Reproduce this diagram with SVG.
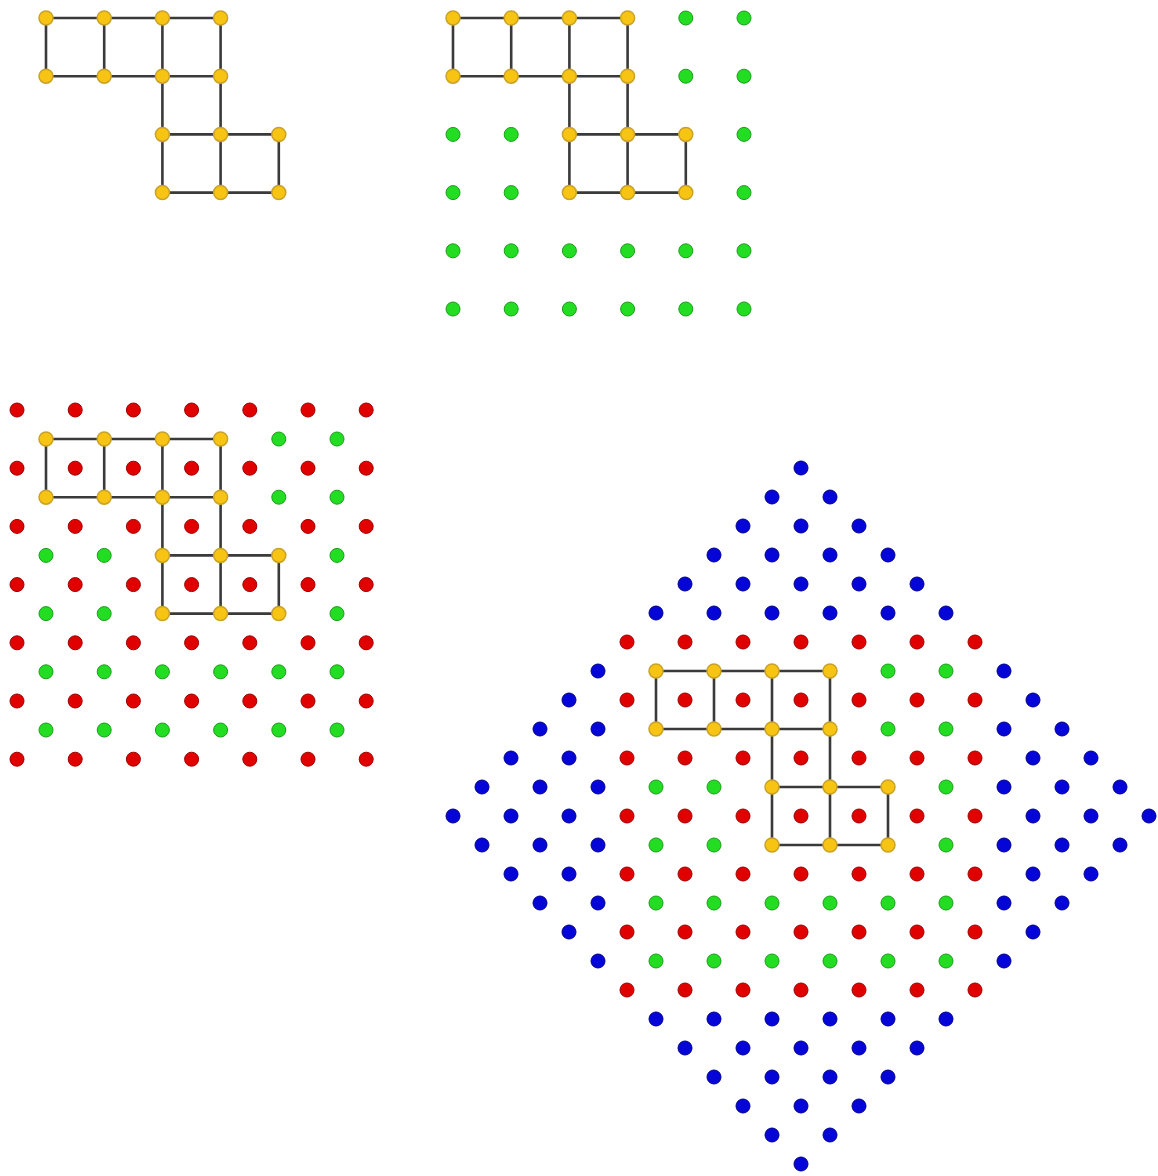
<svg xmlns="http://www.w3.org/2000/svg" width="1158" height="1176" viewBox="0 0 1158 1176">
<style>
.e{fill:none;stroke:#3a3a3a;stroke-width:2.6}
.y{fill:#F7C414;stroke:#C9A227;stroke-width:1.5}
.g{fill:#22DD22;stroke:#1A9E1A;stroke-width:1}
.r{fill:#E00000;stroke:#A00000;stroke-width:1}
.b{fill:#0505D8;stroke:#000090;stroke-width:1}
circle{r:7}
</style>
<rect width="1158" height="1176" fill="#ffffff"/>

<!-- Panel A (top-left) -->
<g id="panelA">
<g id="connA"><path class="e" d="M46 18H220.6M46 76.2H220.6M162.4 134.4H278.8M162.4 192.6H278.8M46 18V76.2M104.2 18V76.2M162.4 18V192.6M220.6 18V192.6M278.8 134.4V192.6"/></g>
<g id="A00"><circle class="y" cx="46" cy="18" r="7"/></g>
<g id="A10"><circle class="y" cx="104.2" cy="18" r="7"/></g>
<g id="A20"><circle class="y" cx="162.4" cy="18" r="7"/></g>
<g id="A30"><circle class="y" cx="220.6" cy="18" r="7"/></g>
<g id="A01"><circle class="y" cx="46" cy="76.2" r="7"/></g>
<g id="A11"><circle class="y" cx="104.2" cy="76.2" r="7"/></g>
<g id="A21"><circle class="y" cx="162.4" cy="76.2" r="7"/></g>
<g id="A31"><circle class="y" cx="220.6" cy="76.2" r="7"/></g>
<g id="A22"><circle class="y" cx="162.4" cy="134.4" r="7"/></g>
<g id="A32"><circle class="y" cx="220.6" cy="134.4" r="7"/></g>
<g id="A42"><circle class="y" cx="278.8" cy="134.4" r="7"/></g>
<g id="A23"><circle class="y" cx="162.4" cy="192.6" r="7"/></g>
<g id="A33"><circle class="y" cx="220.6" cy="192.6" r="7"/></g>
<g id="A43"><circle class="y" cx="278.8" cy="192.6" r="7"/></g>
</g>

<!-- Panel B (top-right) -->
<g id="panelB">
<g id="connB"><path class="e" d="M453 18H627.6M453 76.2H627.6M569.4 134.4H685.8M569.4 192.6H685.8M453 18V76.2M511.2 18V76.2M569.4 18V192.6M627.6 18V192.6M685.8 134.4V192.6"/></g>
<g id="B00"><circle class="y" cx="453" cy="18" r="7"/></g>
<g id="B10"><circle class="y" cx="511.2" cy="18" r="7"/></g>
<g id="B20"><circle class="y" cx="569.4" cy="18" r="7"/></g>
<g id="B30"><circle class="y" cx="627.6" cy="18" r="7"/></g>
<g id="B01"><circle class="y" cx="453" cy="76.2" r="7"/></g>
<g id="B11"><circle class="y" cx="511.2" cy="76.2" r="7"/></g>
<g id="B21"><circle class="y" cx="569.4" cy="76.2" r="7"/></g>
<g id="B31"><circle class="y" cx="627.6" cy="76.2" r="7"/></g>
<g id="B22"><circle class="y" cx="569.4" cy="134.4" r="7"/></g>
<g id="B32"><circle class="y" cx="627.6" cy="134.4" r="7"/></g>
<g id="B42"><circle class="y" cx="685.8" cy="134.4" r="7"/></g>
<g id="B23"><circle class="y" cx="569.4" cy="192.6" r="7"/></g>
<g id="B33"><circle class="y" cx="627.6" cy="192.6" r="7"/></g>
<g id="B43"><circle class="y" cx="685.8" cy="192.6" r="7"/></g>
<g id="B-green">
<circle class="g" cx="685.8" cy="18" r="7"/><circle class="g" cx="744" cy="18" r="7"/>
<circle class="g" cx="685.8" cy="76.2" r="7"/><circle class="g" cx="744" cy="76.2" r="7"/>
<circle class="g" cx="453" cy="134.4" r="7"/><circle class="g" cx="511.2" cy="134.4" r="7"/><circle class="g" cx="744" cy="134.4" r="7"/>
<circle class="g" cx="453" cy="192.6" r="7"/><circle class="g" cx="511.2" cy="192.6" r="7"/><circle class="g" cx="744" cy="192.6" r="7"/>
<circle class="g" cx="453" cy="250.8" r="7"/><circle class="g" cx="511.2" cy="250.8" r="7"/><circle class="g" cx="569.4" cy="250.8" r="7"/><circle class="g" cx="627.6" cy="250.8" r="7"/><circle class="g" cx="685.8" cy="250.8" r="7"/><circle class="g" cx="744" cy="250.8" r="7"/>
<circle class="g" cx="453" cy="309" r="7"/><circle class="g" cx="511.2" cy="309" r="7"/><circle class="g" cx="569.4" cy="309" r="7"/><circle class="g" cx="627.6" cy="309" r="7"/><circle class="g" cx="685.8" cy="309" r="7"/><circle class="g" cx="744" cy="309" r="7"/>
</g>
</g>

<!-- Panel C (bottom-left) -->
<g id="panelC">
<g id="C-red">
<circle class="r" cx="17" cy="410" r="7"/><circle class="r" cx="75.2" cy="410" r="7"/><circle class="r" cx="133.4" cy="410" r="7"/><circle class="r" cx="191.6" cy="410" r="7"/><circle class="r" cx="249.8" cy="410" r="7"/><circle class="r" cx="308" cy="410" r="7"/><circle class="r" cx="366.2" cy="410" r="7"/>
<circle class="r" cx="17" cy="468.2" r="7"/><circle class="r" cx="75.2" cy="468.2" r="7"/><circle class="r" cx="133.4" cy="468.2" r="7"/><circle class="r" cx="191.6" cy="468.2" r="7"/><circle class="r" cx="249.8" cy="468.2" r="7"/><circle class="r" cx="308" cy="468.2" r="7"/><circle class="r" cx="366.2" cy="468.2" r="7"/>
<circle class="r" cx="17" cy="526.4" r="7"/><circle class="r" cx="75.2" cy="526.4" r="7"/><circle class="r" cx="133.4" cy="526.4" r="7"/><circle class="r" cx="191.6" cy="526.4" r="7"/><circle class="r" cx="249.8" cy="526.4" r="7"/><circle class="r" cx="308" cy="526.4" r="7"/><circle class="r" cx="366.2" cy="526.4" r="7"/>
<circle class="r" cx="17" cy="584.6" r="7"/><circle class="r" cx="75.2" cy="584.6" r="7"/><circle class="r" cx="133.4" cy="584.6" r="7"/><circle class="r" cx="191.6" cy="584.6" r="7"/><circle class="r" cx="249.8" cy="584.6" r="7"/><circle class="r" cx="308" cy="584.6" r="7"/><circle class="r" cx="366.2" cy="584.6" r="7"/>
<circle class="r" cx="17" cy="642.8" r="7"/><circle class="r" cx="75.2" cy="642.8" r="7"/><circle class="r" cx="133.4" cy="642.8" r="7"/><circle class="r" cx="191.6" cy="642.8" r="7"/><circle class="r" cx="249.8" cy="642.8" r="7"/><circle class="r" cx="308" cy="642.8" r="7"/><circle class="r" cx="366.2" cy="642.8" r="7"/>
<circle class="r" cx="17" cy="701" r="7"/><circle class="r" cx="75.2" cy="701" r="7"/><circle class="r" cx="133.4" cy="701" r="7"/><circle class="r" cx="191.6" cy="701" r="7"/><circle class="r" cx="249.8" cy="701" r="7"/><circle class="r" cx="308" cy="701" r="7"/><circle class="r" cx="366.2" cy="701" r="7"/>
<circle class="r" cx="17" cy="759.2" r="7"/><circle class="r" cx="75.2" cy="759.2" r="7"/><circle class="r" cx="133.4" cy="759.2" r="7"/><circle class="r" cx="191.6" cy="759.2" r="7"/><circle class="r" cx="249.8" cy="759.2" r="7"/><circle class="r" cx="308" cy="759.2" r="7"/><circle class="r" cx="366.2" cy="759.2" r="7"/>
</g>
<g id="C-green">
<circle class="g" cx="278.8" cy="439" r="7"/><circle class="g" cx="337" cy="439" r="7"/>
<circle class="g" cx="278.8" cy="497.2" r="7"/><circle class="g" cx="337" cy="497.2" r="7"/>
<circle class="g" cx="46" cy="555.4" r="7"/><circle class="g" cx="104.2" cy="555.4" r="7"/><circle class="g" cx="337" cy="555.4" r="7"/>
<circle class="g" cx="46" cy="613.6" r="7"/><circle class="g" cx="104.2" cy="613.6" r="7"/><circle class="g" cx="337" cy="613.6" r="7"/>
<circle class="g" cx="46" cy="671.8" r="7"/><circle class="g" cx="104.2" cy="671.8" r="7"/><circle class="g" cx="162.4" cy="671.8" r="7"/><circle class="g" cx="220.6" cy="671.8" r="7"/><circle class="g" cx="278.8" cy="671.8" r="7"/><circle class="g" cx="337" cy="671.8" r="7"/>
<circle class="g" cx="46" cy="730" r="7"/><circle class="g" cx="104.2" cy="730" r="7"/><circle class="g" cx="162.4" cy="730" r="7"/><circle class="g" cx="220.6" cy="730" r="7"/><circle class="g" cx="278.8" cy="730" r="7"/><circle class="g" cx="337" cy="730" r="7"/>
</g>
<g id="connC"><path class="e" d="M46 439H220.6M46 497.2H220.6M162.4 555.4H278.8M162.4 613.6H278.8M46 439V497.2M104.2 439V497.2M162.4 439V613.6M220.6 439V613.6M278.8 555.4V613.6"/></g>
<g id="C00"><circle class="y" cx="46" cy="439" r="7"/></g>
<g id="C10"><circle class="y" cx="104.2" cy="439" r="7"/></g>
<g id="C20"><circle class="y" cx="162.4" cy="439" r="7"/></g>
<g id="C30"><circle class="y" cx="220.6" cy="439" r="7"/></g>
<g id="C01"><circle class="y" cx="46" cy="497.2" r="7"/></g>
<g id="C11"><circle class="y" cx="104.2" cy="497.2" r="7"/></g>
<g id="C21"><circle class="y" cx="162.4" cy="497.2" r="7"/></g>
<g id="C31"><circle class="y" cx="220.6" cy="497.2" r="7"/></g>
<g id="C22"><circle class="y" cx="162.4" cy="555.4" r="7"/></g>
<g id="C32"><circle class="y" cx="220.6" cy="555.4" r="7"/></g>
<g id="C42"><circle class="y" cx="278.8" cy="555.4" r="7"/></g>
<g id="C23"><circle class="y" cx="162.4" cy="613.6" r="7"/></g>
<g id="C33"><circle class="y" cx="220.6" cy="613.6" r="7"/></g>
<g id="C43"><circle class="y" cx="278.8" cy="613.6" r="7"/></g>
</g>

<!-- Panel D (bottom-right diamond) -->
<g id="panelD">
<g id="D-blue">
<circle class="b" cx="801" cy="468" r="7"/>
<circle class="b" cx="772" cy="497" r="7"/><circle class="b" cx="830" cy="497" r="7"/>
<circle class="b" cx="743" cy="526" r="7"/><circle class="b" cx="801" cy="526" r="7"/><circle class="b" cx="859" cy="526" r="7"/>
<circle class="b" cx="714" cy="555" r="7"/><circle class="b" cx="772" cy="555" r="7"/><circle class="b" cx="830" cy="555" r="7"/><circle class="b" cx="888" cy="555" r="7"/>
<circle class="b" cx="685" cy="584" r="7"/><circle class="b" cx="743" cy="584" r="7"/><circle class="b" cx="801" cy="584" r="7"/><circle class="b" cx="859" cy="584" r="7"/><circle class="b" cx="917" cy="584" r="7"/>
<circle class="b" cx="656" cy="613" r="7"/><circle class="b" cx="714" cy="613" r="7"/><circle class="b" cx="772" cy="613" r="7"/><circle class="b" cx="830" cy="613" r="7"/><circle class="b" cx="888" cy="613" r="7"/><circle class="b" cx="946" cy="613" r="7"/>
<circle class="b" cx="598" cy="671" r="7"/><circle class="b" cx="1004" cy="671" r="7"/>
<circle class="b" cx="569" cy="700" r="7"/><circle class="b" cx="1033" cy="700" r="7"/>
<circle class="b" cx="540" cy="729" r="7"/><circle class="b" cx="598" cy="729" r="7"/><circle class="b" cx="1004" cy="729" r="7"/><circle class="b" cx="1062" cy="729" r="7"/>
<circle class="b" cx="511" cy="758" r="7"/><circle class="b" cx="569" cy="758" r="7"/><circle class="b" cx="1033" cy="758" r="7"/><circle class="b" cx="1091" cy="758" r="7"/>
<circle class="b" cx="482" cy="787" r="7"/><circle class="b" cx="540" cy="787" r="7"/><circle class="b" cx="598" cy="787" r="7"/><circle class="b" cx="1004" cy="787" r="7"/><circle class="b" cx="1062" cy="787" r="7"/><circle class="b" cx="1120" cy="787" r="7"/>
<circle class="b" cx="453" cy="816" r="7"/><circle class="b" cx="511" cy="816" r="7"/><circle class="b" cx="569" cy="816" r="7"/><circle class="b" cx="1033" cy="816" r="7"/><circle class="b" cx="1091" cy="816" r="7"/><circle class="b" cx="1149" cy="816" r="7"/>
<circle class="b" cx="482" cy="845" r="7"/><circle class="b" cx="540" cy="845" r="7"/><circle class="b" cx="598" cy="845" r="7"/><circle class="b" cx="1004" cy="845" r="7"/><circle class="b" cx="1062" cy="845" r="7"/><circle class="b" cx="1120" cy="845" r="7"/>
<circle class="b" cx="511" cy="874" r="7"/><circle class="b" cx="569" cy="874" r="7"/><circle class="b" cx="1033" cy="874" r="7"/><circle class="b" cx="1091" cy="874" r="7"/>
<circle class="b" cx="540" cy="903" r="7"/><circle class="b" cx="598" cy="903" r="7"/><circle class="b" cx="1004" cy="903" r="7"/><circle class="b" cx="1062" cy="903" r="7"/>
<circle class="b" cx="569" cy="932" r="7"/><circle class="b" cx="1033" cy="932" r="7"/>
<circle class="b" cx="598" cy="961" r="7"/><circle class="b" cx="1004" cy="961" r="7"/>
<circle class="b" cx="656" cy="1019" r="7"/><circle class="b" cx="714" cy="1019" r="7"/><circle class="b" cx="772" cy="1019" r="7"/><circle class="b" cx="830" cy="1019" r="7"/><circle class="b" cx="888" cy="1019" r="7"/><circle class="b" cx="946" cy="1019" r="7"/>
<circle class="b" cx="685" cy="1048" r="7"/><circle class="b" cx="743" cy="1048" r="7"/><circle class="b" cx="801" cy="1048" r="7"/><circle class="b" cx="859" cy="1048" r="7"/><circle class="b" cx="917" cy="1048" r="7"/>
<circle class="b" cx="714" cy="1077" r="7"/><circle class="b" cx="772" cy="1077" r="7"/><circle class="b" cx="830" cy="1077" r="7"/><circle class="b" cx="888" cy="1077" r="7"/>
<circle class="b" cx="743" cy="1106" r="7"/><circle class="b" cx="801" cy="1106" r="7"/><circle class="b" cx="859" cy="1106" r="7"/>
<circle class="b" cx="772" cy="1135" r="7"/><circle class="b" cx="830" cy="1135" r="7"/>
<circle class="b" cx="801" cy="1164" r="7"/>
</g>
<g id="D-red">
<circle class="r" cx="627" cy="642" r="7"/><circle class="r" cx="685" cy="642" r="7"/><circle class="r" cx="743" cy="642" r="7"/><circle class="r" cx="801" cy="642" r="7"/><circle class="r" cx="859" cy="642" r="7"/><circle class="r" cx="917" cy="642" r="7"/><circle class="r" cx="975" cy="642" r="7"/>
<circle class="r" cx="627" cy="700" r="7"/><circle class="r" cx="685" cy="700" r="7"/><circle class="r" cx="743" cy="700" r="7"/><circle class="r" cx="801" cy="700" r="7"/><circle class="r" cx="859" cy="700" r="7"/><circle class="r" cx="917" cy="700" r="7"/><circle class="r" cx="975" cy="700" r="7"/>
<circle class="r" cx="627" cy="758" r="7"/><circle class="r" cx="685" cy="758" r="7"/><circle class="r" cx="743" cy="758" r="7"/><circle class="r" cx="801" cy="758" r="7"/><circle class="r" cx="859" cy="758" r="7"/><circle class="r" cx="917" cy="758" r="7"/><circle class="r" cx="975" cy="758" r="7"/>
<circle class="r" cx="627" cy="816" r="7"/><circle class="r" cx="685" cy="816" r="7"/><circle class="r" cx="743" cy="816" r="7"/><circle class="r" cx="801" cy="816" r="7"/><circle class="r" cx="859" cy="816" r="7"/><circle class="r" cx="917" cy="816" r="7"/><circle class="r" cx="975" cy="816" r="7"/>
<circle class="r" cx="627" cy="874" r="7"/><circle class="r" cx="685" cy="874" r="7"/><circle class="r" cx="743" cy="874" r="7"/><circle class="r" cx="801" cy="874" r="7"/><circle class="r" cx="859" cy="874" r="7"/><circle class="r" cx="917" cy="874" r="7"/><circle class="r" cx="975" cy="874" r="7"/>
<circle class="r" cx="627" cy="932" r="7"/><circle class="r" cx="685" cy="932" r="7"/><circle class="r" cx="743" cy="932" r="7"/><circle class="r" cx="801" cy="932" r="7"/><circle class="r" cx="859" cy="932" r="7"/><circle class="r" cx="917" cy="932" r="7"/><circle class="r" cx="975" cy="932" r="7"/>
<circle class="r" cx="627" cy="990" r="7"/><circle class="r" cx="685" cy="990" r="7"/><circle class="r" cx="743" cy="990" r="7"/><circle class="r" cx="801" cy="990" r="7"/><circle class="r" cx="859" cy="990" r="7"/><circle class="r" cx="917" cy="990" r="7"/><circle class="r" cx="975" cy="990" r="7"/>
</g>
<g id="D-green">
<circle class="g" cx="888" cy="671" r="7"/><circle class="g" cx="946" cy="671" r="7"/>
<circle class="g" cx="888" cy="729" r="7"/><circle class="g" cx="946" cy="729" r="7"/>
<circle class="g" cx="656" cy="787" r="7"/><circle class="g" cx="714" cy="787" r="7"/><circle class="g" cx="946" cy="787" r="7"/>
<circle class="g" cx="656" cy="845" r="7"/><circle class="g" cx="714" cy="845" r="7"/><circle class="g" cx="946" cy="845" r="7"/>
<circle class="g" cx="656" cy="903" r="7"/><circle class="g" cx="714" cy="903" r="7"/><circle class="g" cx="772" cy="903" r="7"/><circle class="g" cx="830" cy="903" r="7"/><circle class="g" cx="888" cy="903" r="7"/><circle class="g" cx="946" cy="903" r="7"/>
<circle class="g" cx="656" cy="961" r="7"/><circle class="g" cx="714" cy="961" r="7"/><circle class="g" cx="772" cy="961" r="7"/><circle class="g" cx="830" cy="961" r="7"/><circle class="g" cx="888" cy="961" r="7"/><circle class="g" cx="946" cy="961" r="7"/>
</g>
<g id="connD"><path class="e" d="M656 671H830M656 729H830M772 787H888M772 845H888M656 671V729M714 671V729M772 671V845M830 671V845M888 787V845"/></g>
<g id="D00"><circle class="y" cx="656" cy="671" r="7"/></g>
<g id="D10"><circle class="y" cx="714" cy="671" r="7"/></g>
<g id="D20"><circle class="y" cx="772" cy="671" r="7"/></g>
<g id="D30"><circle class="y" cx="830" cy="671" r="7"/></g>
<g id="D01"><circle class="y" cx="656" cy="729" r="7"/></g>
<g id="D11"><circle class="y" cx="714" cy="729" r="7"/></g>
<g id="D21"><circle class="y" cx="772" cy="729" r="7"/></g>
<g id="D31"><circle class="y" cx="830" cy="729" r="7"/></g>
<g id="D22"><circle class="y" cx="772" cy="787" r="7"/></g>
<g id="D32"><circle class="y" cx="830" cy="787" r="7"/></g>
<g id="D42"><circle class="y" cx="888" cy="787" r="7"/></g>
<g id="D23"><circle class="y" cx="772" cy="845" r="7"/></g>
<g id="D33"><circle class="y" cx="830" cy="845" r="7"/></g>
<g id="D43"><circle class="y" cx="888" cy="845" r="7"/></g>
</g>
</svg>
